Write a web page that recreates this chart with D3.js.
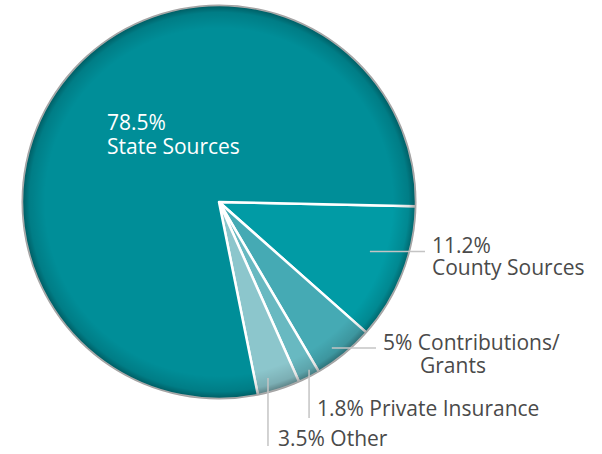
<!DOCTYPE html>
<html>
<head>
<meta charset="utf-8">
<script src="https://cdn.jsdelivr.net/npm/d3@7"></script>
<style>
  body { margin: 0; background: #fff; }
  svg { display: block; }
</style>
</head>
<body>
<svg id="pie" width="602" height="454"></svg>
<script>
// funding shares, in percent
const labels = ['County Sources', 'Contributions/ Grants', 'Private Insurance', 'Other', 'State Sources']
const values = [11.2, 5, 1.8, 3.5, 78.5]
const colors = ['#019ba5', '#45aab4', '#68b9c1', '#8cc6cc', '#008e98']

const svg = d3.select('#pie')
const cx = 219, cy = 202, r = 197
const font = 'Open Sans, sans-serif'

const data = labels.map((l, i) => ({ label: l, value: values[i], color: colors[i] }))

const pie = d3.pie()
  .sort(null)
  .value(d => d.value)
  .startAngle(91.2 * Math.PI / 180)
  .endAngle((91.2 + 360) * Math.PI / 180)

const arc = d3.arc().innerRadius(0).outerRadius(r)
const arcs = pie(data)

const defs = svg.append('defs')
const grad = defs.append('radialGradient').attr('id', 'rim')
  .attr('cx', '50%').attr('cy', '50%').attr('r', '50%')
grad.append('stop').attr('offset', '88%').attr('stop-color', '#000').attr('stop-opacity', 0)
grad.append('stop').attr('offset', '96%').attr('stop-color', '#000').attr('stop-opacity', 0.12)
grad.append('stop').attr('offset', '100%').attr('stop-color', '#000').attr('stop-opacity', 0.38)

const g = svg.append('g').attr('transform', `translate(${cx},${cy})`)

g.selectAll('path.slice')
  .data(arcs)
  .join('path')
  .attr('class', 'slice')
  .attr('d', arc)
  .attr('fill', d => d.data.color)
  .attr('stroke', '#fff')
  .attr('stroke-width', 2.5)
  .attr('stroke-linejoin', 'round')

// darker rim on the edge of the pie
g.append('circle').attr('r', r + 0.5).attr('fill', 'url(#rim)')

function label(x, y, s, fill) {
  svg.append('text')
    .attr('x', x).attr('y', y)
    .attr('fill', fill)
    .attr('font-family', font)
    .attr('font-size', 21)
    .text(s)
}

// label for the big slice, inside the pie
label(107, 130, values[4] + '%', '#fff')
label(107, 154, labels[4], '#fff')

// outside labels with leader lines
// t = position across the slice (0..1), rr = share of the radius
const lineColor = '#c4c4c4'
const textColor = '#4a4a4a'

const callouts = [
  { i: 0, t: 0.42, rr: 0.806, kind: 'h', end: 425, texts: [[432, 253, values[0] + '%'], [432, 275, 'County Sources']] },
  { i: 1, t: 0.6, rr: 0.937, kind: 'h', end: 376, texts: [[383, 350, values[1] + '% Contributions/'], [420, 373, 'Grants']] },
  { i: 2, t: 0.35, rr: 0.967, kind: 'v', end: 418, texts: [[317, 416, values[2] + '% Private Insurance']] },
  { i: 3, t: 0.67, rr: 0.927, kind: 'v', end: 446, texts: [[278, 446, values[3] + '% Other']] }
]

callouts.forEach(c => {
  const d = arcs[c.i]
  const a = d.startAngle + (d.endAngle - d.startAngle) * c.t
  const px = cx + Math.sin(a) * r * c.rr
  const py = cy - Math.cos(a) * r * c.rr
  const x2 = c.kind === 'h' ? c.end : px
  const y2 = c.kind === 'h' ? py : c.end
  svg.append('line')
    .attr('x1', px).attr('y1', py)
    .attr('x2', x2).attr('y2', y2)
    .attr('stroke', lineColor)
    .attr('stroke-width', 1.5)
  c.texts.forEach(([x, y, s]) => label(x, y, s, textColor))
})
</script>
</body>
</html>
